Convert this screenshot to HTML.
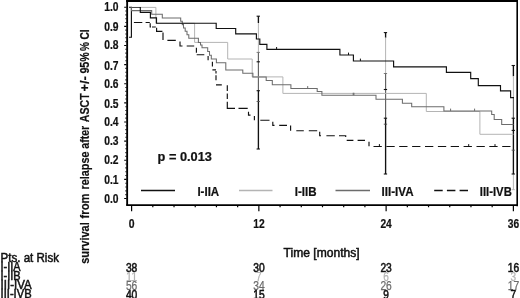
<!DOCTYPE html>
<html><head><meta charset="utf-8"><title>Survival from relapse after ASCT</title>
<style>
html,body{margin:0;padding:0;background:#fff;}
body{width:520px;height:298px;overflow:hidden;}
svg{display:block;}
text{font-family:"Liberation Sans",Arial,sans-serif;fill:#111;}
.b{font-weight:bold;stroke:#111;stroke-width:0.2px;}
.m{font-weight:normal;stroke:#111;stroke-width:0.5px;}
</style></head><body>
<svg width="520" height="298" viewBox="0 0 520 298">
<rect width="520" height="298" fill="#fff"/>
<path d="M131.4,7.2 V37.2 M129.0,7.2 H132.0 M129.0,37.2 H132.0" stroke="#111" stroke-width="1.15" fill="none"/><path d="M258.4,16.2 V23.1" stroke="#111" stroke-width="1.35" fill="none"/><path d="M258.4,23.1 V52.4" stroke="#b4b4b4" stroke-width="1.0" fill="none"/><path d="M258.4,52.4 V90.7" stroke="#606060" stroke-width="1.15" fill="none"/><path d="M258.4,90.7 V149" stroke="#111" stroke-width="1.35" fill="none"/><path d="M256.59999999999997,16.2 H259.9" stroke="#111" stroke-width="1.1" fill="none"/><path d="M256.59999999999997,61.8 H259.9" stroke="#111" stroke-width="1.1" fill="none"/><path d="M256.59999999999997,52.4 H259.9" stroke="#6c6c6c" stroke-width="0.9" fill="none"/><path d="M256.59999999999997,101.5 H259.9" stroke="#555" stroke-width="0.9" fill="none"/><path d="M256.59999999999997,90.7 H259.9" stroke="#111" stroke-width="1.1" fill="none"/><path d="M256.59999999999997,149 H259.9" stroke="#111" stroke-width="1.1" fill="none"/><path d="M385.6,32.6 V37.7" stroke="#111" stroke-width="1.35" fill="none"/><path d="M385.6,37.7 V73.5" stroke="#b4b4b4" stroke-width="1.0" fill="none"/><path d="M385.6,73.5 V118.2" stroke="#606060" stroke-width="1.15" fill="none"/><path d="M385.6,118.2 V174" stroke="#111" stroke-width="1.35" fill="none"/><path d="M383.8,32.6 H387.1" stroke="#111" stroke-width="1.1" fill="none"/><path d="M383.8,89.5 H387.1" stroke="#111" stroke-width="1.1" fill="none"/><path d="M383.8,73.5 H387.1" stroke="#6c6c6c" stroke-width="0.9" fill="none"/><path d="M383.8,124.2 H387.1" stroke="#444" stroke-width="0.9" fill="none"/><path d="M383.8,118.2 H387.1" stroke="#111" stroke-width="1.1" fill="none"/><path d="M383.8,174 H387.1" stroke="#111" stroke-width="1.1" fill="none"/><path d="M513.4,65.5 V76.3" stroke="#111" stroke-width="1.35" fill="none"/><path d="M513.4,76.3 V98" stroke="#b4b4b4" stroke-width="1.0" fill="none"/><path d="M513.4,98 V118.2" stroke="#606060" stroke-width="1.15" fill="none"/><path d="M513.4,118.2 V174" stroke="#111" stroke-width="1.35" fill="none"/><path d="M513.4,174 V189.7" stroke="#b4b4b4" stroke-width="1.0" fill="none"/><path d="M511.59999999999997,65.5 H514.9" stroke="#111" stroke-width="1.1" fill="none"/><path d="M511.59999999999997,130.4 H514.9" stroke="#111" stroke-width="1.1" fill="none"/><path d="M511.59999999999997,118.2 H514.9" stroke="#111" stroke-width="1.1" fill="none"/><path d="M511.59999999999997,174 H514.9" stroke="#111" stroke-width="1.1" fill="none"/><path d="M511.59999999999997,150.2 H514.9" stroke="#555" stroke-width="0.9" fill="none"/><path d="M511.59999999999997,189.7 H514.9" stroke="#b4b4b4" stroke-width="0.9" fill="none"/>
<path d="M131.5,7.4 H155.9 V23.3 H194.6 V42.4 H227.7 V59 H252.2 V76.9 H282.9 V93.4 H426.3 V111.5 H479.9 V134.3 H513.5" stroke="#b4b4b4" stroke-width="1.0" fill="none"/>
<path d="M131.5,7.4 V10.6 H151.7 V14.3 H162.3 V17.9 H180.7 V21.2 H182.3 V24.6 H183.5 V28 H185.2 V31.3 H187 V34.7 H188.8 V38.2 H198.4 V42.4 H200.5 V45 H202 V47.7 H207.7 V51.5 H209.5 V55.3 H211.3 V59 H216.4 V62.7 H225.8 V69.9 H242.8 V73.2 H252.9 V76.9 H266.2 V80.4 H272.3 V84.8 H290.9 V88.5 H317.2 V91.5 H321.9 V95.2 H376 V99.3 H402.4 V103.2 H411.7 V106.8 H443.9 V111 H491.7 V114.4 H494.2 V119.4 H501.7 V124.5 H513.5" stroke="#6c6c6c" stroke-width="1.05" fill="none"/>
<path d="M131.5,7.5 H140.3" stroke="#4a4a4a" stroke-width="1.0" fill="none"/><path d="M140.3,7.0 V12.3 H150.4 V17.8 H156.5 V23.2 H216.2 V28.5 H235.7 V33.8 H256.4 V39 H259.8 V44.3 H266.9 V49.4 H339.9 V55 H353.4 V61 H393.6 V66.8 H446.4 V72.3 H470.7 V78.6 H478.3 V85.6 H500.5 V90.9 H510.6 V97.6 H514" stroke="#111" stroke-width="1.15" fill="none"/>
<path d="M133.9,22.5 H142.3 M145.6,22.5 H149.8 M150.2,23.3 V27 H151 M152,27 H155.8 M156.6,27.8 V31.4 H162.4 M163,32.6 V40.1 M167.4,40.3 H175.8 M180,41.5 V46 H182.5 M186.7,46 H194.2 M196.4,47.7 V52.7 M196.7,54.7 H204.3 M208.1,56 V60.3 M212.4,61.8 V66.5 M212.4,69.8 H216 M216,71 V73.5 M216,75.2 V80.2 M216,84.9 H221.8 M227.3,85.2 V91 M227.3,93.5 V99 M227.3,101.7 V108.4 H235 M238.5,108.4 H247.7 M248.5,111.8 V115.1 H250.5 M254.4,116 V120.2 M260.3,120.2 H269.5 M272.8,121.8 V125.3 H274.5 M279.2,125.3 H287 M290.6,125.5 V130.7 M296.3,130.7 H303.8 M308.8,130.7 H317.2 M319.7,131.8 V135.7 H321 M326.4,135.7 H334.8 M339,135.7 H345.7 V137 M346.7,140.4 H353.4 M357.6,140.4 H365 M369,141.8 V146.3 M373.5,146.5 H381.8 M386.4,146.5 H394.7 M399.2,146.5 H407.5 M412.1,146.5 H420.4 M425.0,146.5 H433.3 M437.9,146.5 H446.2 M450.7,146.5 H459.0 M463.6,146.5 H471.9 M476.5,146.5 H484.8 M489.3,146.5 H497.6 M502.2,146.5 H510.5" stroke="#111" stroke-width="1.15" fill="none"/>
<path d="M276.6,49.4 v-2.4" stroke="#111" stroke-width="1.0" fill="none"/><path d="M348.5,55 v-2.4" stroke="#111" stroke-width="1.0" fill="none"/><path d="M360.4,61 v-2.4" stroke="#111" stroke-width="1.0" fill="none"/><path d="M307.7,88.5 v-2.4" stroke="#6c6c6c" stroke-width="1.0" fill="none"/><path d="M353.2,95.2 v-2.4" stroke="#6c6c6c" stroke-width="1.0" fill="none"/><path d="M353.9,95.2 v-2.4" stroke="#6c6c6c" stroke-width="1.0" fill="none"/><path d="M450.6,111 v-2.4" stroke="#6c6c6c" stroke-width="1.0" fill="none"/><path d="M474.6,111 v-2.4" stroke="#6c6c6c" stroke-width="1.0" fill="none"/><path d="M379.4,146.5 v-2.4" stroke="#111" stroke-width="1.0" fill="none"/><path d="M468.7,146.5 v-2.4" stroke="#111" stroke-width="1.0" fill="none"/><path d="M495,146.5 v-2.4" stroke="#111" stroke-width="1.0" fill="none"/><path d="M127.15,0 V205.3" stroke="#000" stroke-width="1.85" fill="none"/><path d="M126.2,0.95 H518" stroke="#000" stroke-width="1.9" fill="none"/><path d="M517.2,0 V206.2" stroke="#000" stroke-width="1.6" fill="none"/><path d="M126.2,205.05 H518" stroke="#000" stroke-width="1.8" fill="none"/><path d="M124.2,198.50 H126.5 M125.4,194.67 H126.5 M125.4,190.85 H126.5 M125.4,187.02 H126.5 M125.4,183.20 H126.5 M124.2,179.37 H126.5 M125.4,175.54 H126.5 M125.4,171.72 H126.5 M125.4,167.89 H126.5 M125.4,164.07 H126.5 M124.2,160.24 H126.5 M125.4,156.41 H126.5 M125.4,152.59 H126.5 M125.4,148.76 H126.5 M125.4,144.94 H126.5 M124.2,141.11 H126.5 M125.4,137.28 H126.5 M125.4,133.46 H126.5 M125.4,129.63 H126.5 M125.4,125.81 H126.5 M124.2,121.98 H126.5 M125.4,118.15 H126.5 M125.4,114.33 H126.5 M125.4,110.50 H126.5 M125.4,106.68 H126.5 M124.2,102.85 H126.5 M125.4,99.02 H126.5 M125.4,95.20 H126.5 M125.4,91.37 H126.5 M125.4,87.55 H126.5 M124.2,83.72 H126.5 M125.4,79.89 H126.5 M125.4,76.07 H126.5 M125.4,72.24 H126.5 M125.4,68.42 H126.5 M124.2,64.59 H126.5 M125.4,60.76 H126.5 M125.4,56.94 H126.5 M125.4,53.11 H126.5 M125.4,49.29 H126.5 M124.2,45.46 H126.5 M125.4,41.63 H126.5 M125.4,37.81 H126.5 M125.4,33.98 H126.5 M125.4,30.16 H126.5 M124.2,26.33 H126.5 M125.4,22.50 H126.5 M125.4,18.68 H126.5 M125.4,14.85 H126.5 M125.4,11.03 H126.5 M124.2,7.20 H126.5 " stroke="#000" stroke-width="1.1" fill="none"/><path d="M131.60,206 V211.3 M152.81,206 V207.3 M174.02,206 V207.3 M195.23,206 V207.3 M216.44,206 V207.3 M237.65,206 V207.3 M258.86,206 V211.3 M280.07,206 V207.3 M301.28,206 V207.3 M322.49,206 V207.3 M343.70,206 V207.3 M364.91,206 V207.3 M386.12,206 V211.3 M407.33,206 V207.3 M428.54,206 V207.3 M449.75,206 V207.3 M470.96,206 V207.3 M492.17,206 V207.3 M513.38,206 V211.3 " stroke="#000" stroke-width="1.2" fill="none"/><text x="118.5" y="203" text-anchor="end" class="b" font-size="12" textLength="14.3" lengthAdjust="spacingAndGlyphs">0.0</text><text x="118.5" y="184" text-anchor="end" class="b" font-size="12" textLength="14.3" lengthAdjust="spacingAndGlyphs">0.1</text><text x="118.5" y="164" text-anchor="end" class="b" font-size="12" textLength="14.3" lengthAdjust="spacingAndGlyphs">0.2</text><text x="118.5" y="145" text-anchor="end" class="b" font-size="12" textLength="14.3" lengthAdjust="spacingAndGlyphs">0.3</text><text x="118.5" y="126" text-anchor="end" class="b" font-size="12" textLength="14.3" lengthAdjust="spacingAndGlyphs">0.4</text><text x="118.5" y="108" text-anchor="end" class="b" font-size="12" textLength="14.3" lengthAdjust="spacingAndGlyphs">0.5</text><text x="118.5" y="88" text-anchor="end" class="b" font-size="12" textLength="14.3" lengthAdjust="spacingAndGlyphs">0.6</text><text x="118.5" y="70" text-anchor="end" class="b" font-size="12" textLength="14.3" lengthAdjust="spacingAndGlyphs">0.7</text><text x="118.5" y="49" text-anchor="end" class="b" font-size="12" textLength="14.3" lengthAdjust="spacingAndGlyphs">0.8</text><text x="118.5" y="31" text-anchor="end" class="b" font-size="12" textLength="14.3" lengthAdjust="spacingAndGlyphs">0.9</text><text x="118.5" y="11" text-anchor="end" class="b" font-size="12" textLength="14.3" lengthAdjust="spacingAndGlyphs">1.0</text><text x="128.7" y="227.7" class="b" font-size="12" textLength="5.8" lengthAdjust="spacingAndGlyphs">0</text><text x="253.2" y="227.7" class="b" font-size="12" textLength="11.4" lengthAdjust="spacingAndGlyphs">12</text><text x="380.4" y="227.7" class="b" font-size="12" textLength="11.4" lengthAdjust="spacingAndGlyphs">24</text><text x="507.7" y="227.7" class="b" font-size="12" textLength="11.4" lengthAdjust="spacingAndGlyphs">36</text><text x="157.6" y="161" class="b" font-size="12" textLength="54.3" lengthAdjust="spacingAndGlyphs">p = 0.013</text><path d="M141,190.5 H175" stroke="#111" stroke-width="1.3"/><path d="M239,190.5 H272.5" stroke="#b4b4b4" stroke-width="1.3"/><path d="M335.5,190.5 H370" stroke="#6c6c6c" stroke-width="1.3"/><path d="M434.2,190.5 H468" stroke="#111" stroke-width="1.3" stroke-dasharray="8.5 4.2"/><text x="197.4" y="196" class="b" font-size="12" textLength="21.8" lengthAdjust="spacingAndGlyphs">I-IIA</text><text x="294.7" y="196" class="b" font-size="12" textLength="21.8" lengthAdjust="spacingAndGlyphs">I-IIB</text><text x="381.6" y="196" class="b" font-size="12" textLength="32" lengthAdjust="spacingAndGlyphs">III-IVA</text><text x="479.8" y="196" class="b" font-size="12" textLength="32" lengthAdjust="spacingAndGlyphs">III-IVB</text><text transform="translate(89,0) rotate(-90)" class="b" font-size="12"><tspan x="-263.8" y="0" textLength="41.5" lengthAdjust="spacingAndGlyphs">survival</tspan> <tspan x="-218.4" y="0" textLength="24.8" lengthAdjust="spacingAndGlyphs">from</tspan> <tspan x="-189.4" y="0" textLength="37.8" lengthAdjust="spacingAndGlyphs">relapse</tspan> <tspan x="-148.7" y="0" textLength="22.8" lengthAdjust="spacingAndGlyphs">after</tspan> <tspan x="-122.2" y="0" textLength="28.8" lengthAdjust="spacingAndGlyphs">ASCT</tspan> <tspan x="-91.6" y="0" textLength="15.4" lengthAdjust="spacingAndGlyphs">+/-</tspan> <tspan x="-73.6" y="0" textLength="21.4" lengthAdjust="spacingAndGlyphs">95%</tspan> <tspan x="-51.0" y="0" textLength="8.9" lengthAdjust="spacingAndGlyphs">%</tspan> <tspan x="-39.5" y="0" textLength="10.2" lengthAdjust="spacingAndGlyphs">CI</tspan></text><text x="283.6" y="257.2" class="m" font-size="12" textLength="76" lengthAdjust="spacingAndGlyphs">Time [months]</text><text x="0.6" y="262" class="m" font-size="12" textLength="58.4" lengthAdjust="spacingAndGlyphs">Pts. at Risk</text><text x="0.6" y="271" class="m" font-size="12" fill="#111" textLength="20" lengthAdjust="spacingAndGlyphs">I-IIA</text><text x="125.9" y="272.0" class="m" font-size="12" style="fill:#111;stroke:#111;stroke-width:0.55px" textLength="11.4" lengthAdjust="spacingAndGlyphs">38</text><text x="253.2" y="272.0" class="m" font-size="12" style="fill:#111;stroke:#111;stroke-width:0.55px" textLength="11.4" lengthAdjust="spacingAndGlyphs">30</text><text x="380.4" y="272.0" class="m" font-size="12" style="fill:#111;stroke:#111;stroke-width:0.55px" textLength="11.4" lengthAdjust="spacingAndGlyphs">23</text><text x="507.7" y="272.0" class="m" font-size="12" style="fill:#111;stroke:#111;stroke-width:0.55px" textLength="11.4" lengthAdjust="spacingAndGlyphs">16</text><text x="0.6" y="280" class="m" font-size="12" fill="#111" textLength="20" lengthAdjust="spacingAndGlyphs">I-IIB</text><text x="125.9" y="281.0" class="m" font-size="12" style="fill:#b4b4b4;stroke:#b4b4b4;stroke-width:0.25px" textLength="11.4" lengthAdjust="spacingAndGlyphs">11</text><text x="256.1" y="281.0" class="m" font-size="12" style="fill:#b4b4b4;stroke:#b4b4b4;stroke-width:0.25px" textLength="5.6" lengthAdjust="spacingAndGlyphs">7</text><text x="383.3" y="281.0" class="m" font-size="12" style="fill:#b4b4b4;stroke:#b4b4b4;stroke-width:0.25px" textLength="5.6" lengthAdjust="spacingAndGlyphs">6</text><text x="510.6" y="281.0" class="m" font-size="12" style="fill:#b4b4b4;stroke:#b4b4b4;stroke-width:0.25px" textLength="5.6" lengthAdjust="spacingAndGlyphs">3</text><text x="0.6" y="289" class="m" font-size="12" fill="#111" textLength="31" lengthAdjust="spacingAndGlyphs">III-IVA</text><text x="125.9" y="290.0" class="m" font-size="12" style="fill:#6c6c6c;stroke:#6c6c6c;stroke-width:0.25px" textLength="11.4" lengthAdjust="spacingAndGlyphs">56</text><text x="253.2" y="290.0" class="m" font-size="12" style="fill:#6c6c6c;stroke:#6c6c6c;stroke-width:0.25px" textLength="11.4" lengthAdjust="spacingAndGlyphs">34</text><text x="380.4" y="290.0" class="m" font-size="12" style="fill:#6c6c6c;stroke:#6c6c6c;stroke-width:0.25px" textLength="11.4" lengthAdjust="spacingAndGlyphs">26</text><text x="507.7" y="290.0" class="m" font-size="12" style="fill:#6c6c6c;stroke:#6c6c6c;stroke-width:0.25px" textLength="11.4" lengthAdjust="spacingAndGlyphs">17</text><text x="0.6" y="298" class="m" font-size="12" fill="#111" textLength="31" lengthAdjust="spacingAndGlyphs">III-IVB</text><text x="125.9" y="299.0" class="m" font-size="12" style="fill:#111;stroke:#111;stroke-width:0.55px" textLength="11.4" lengthAdjust="spacingAndGlyphs">40</text><text x="253.2" y="299.0" class="m" font-size="12" style="fill:#111;stroke:#111;stroke-width:0.55px" textLength="11.4" lengthAdjust="spacingAndGlyphs">15</text><text x="383.3" y="299.0" class="m" font-size="12" style="fill:#111;stroke:#111;stroke-width:0.55px" textLength="5.6" lengthAdjust="spacingAndGlyphs">9</text><text x="510.6" y="299.0" class="m" font-size="12" style="fill:#111;stroke:#111;stroke-width:0.55px" textLength="5.6" lengthAdjust="spacingAndGlyphs">7</text>
</svg>
</body></html>
